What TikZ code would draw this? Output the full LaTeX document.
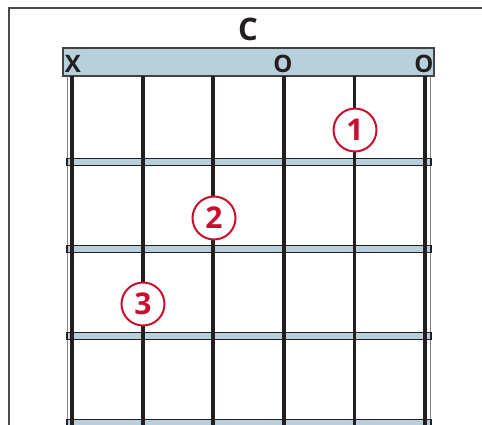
\documentclass[tikz,border=0pt]{standalone}
\usepackage{fontspec}
\setmainfont{Open Sans}
\usepackage{xcolor}
\definecolor{fretblue}{HTML}{B7D0DC}
\definecolor{ink}{HTML}{231F20}
\definecolor{fingerred}{HTML}{C8102E}
\definecolor{framegray}{HTML}{4A4A4A}

\begin{document}
\begin{tikzpicture}[x=1pt,y=-1pt,
  finger/.style={circle, draw=fingerred, fill=white, line width=2pt,
    minimum size=43pt, inner sep=0pt, text=fingerred,
    font=\fontsize{30}{30}\selectfont\bfseries},
  mute/.style={font=\fontsize{24}{24}\selectfont\bfseries, ink}]
  \useasboundingbox (0,0) rectangle (482,424);
  \draw[framegray, line width=2pt] (9,430) -- (9,8) -- (490,8);
  % Raender des Griffbretts
  \draw[gray, line width=0.9pt] (67,76) -- (67,430);
  \draw[gray, line width=0.9pt] (430,76) -- (430,430);
  % Sattel
  \draw[fill=fretblue, draw=ink!85, line width=1.5pt] (63,48) rectangle (434,76);
  % Buende
  \foreach \y in {162,249,336,423}
    \draw[fill=fretblue, draw=ink, line width=1.3pt] (67,\y-3.5) rectangle (431,\y+3.5);
  % Saiten
  \foreach \i in {0,...,5}
    \draw[ink, line width=3.8pt] ({72+70.6*\i},76) -- ({72+70.6*\i},430);
  \node[font=\fontsize{31}{31}\selectfont\bfseries, ink] (chord) at (248,29) {C};
  \node[mute] (s6) at (73,64) {X};
  \node[mute] (s3) at (283,64) {O};
  \node[mute] (s1) at (424,64) {O};
  \node[finger] (f1) at (355,130) {1};
  \node[finger] (f2) at (214,218) {2};
  \node[finger] (f3) at (143,304) {3};
\end{tikzpicture}
\end{document}
